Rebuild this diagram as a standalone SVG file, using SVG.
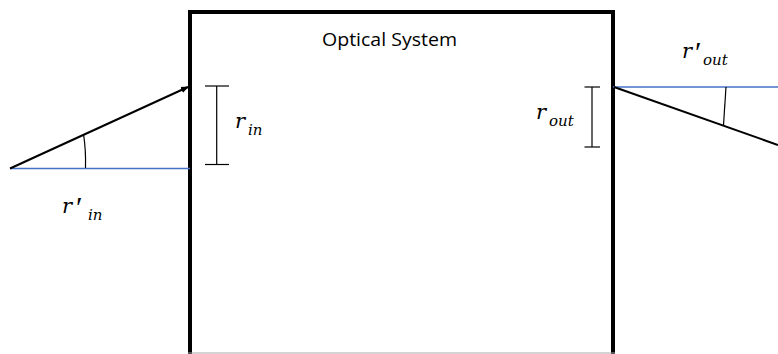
<svg xmlns="http://www.w3.org/2000/svg" width="778" height="354" viewBox="0 0 778 354">
<style>
.ray{stroke:#000;stroke-width:2;fill:none}
.axis{stroke:#4472C4;stroke-width:1.5;fill:none}
.thin{stroke:#000;stroke-width:1.2;fill:none}
.m{font-family:"DejaVu Serif","Liberation Serif",serif;font-style:italic;fill:#000}
.r{font-size:21px}
.s{font-size:15px}
.p{font-family:"Liberation Serif","DejaVu Serif",serif;font-style:normal;font-size:30px}
</style>
<defs>
<marker id="ah" markerWidth="8" markerHeight="8" refX="7" refY="4" orient="auto" markerUnits="userSpaceOnUse">
<path d="M0,0.8 L8,4 L0,7.2 z" fill="#000"/>
</marker>
</defs>
<rect width="778" height="354" fill="#fff"/>
<g id="system">
<rect x="190" y="12" width="423" height="350" fill="none" stroke="#000" stroke-width="4"/>
<line x1="188" y1="353" x2="615" y2="353" stroke="#aaa" stroke-width="1"/>
<text x="322" y="46" font-family="Open Sans, Liberation Sans, sans-serif" font-size="18" textLength="135" lengthAdjust="spacingAndGlyphs" fill="#000">Optical System</text>
</g>
<g id="connectors">
<line class="axis" x1="10" y1="168.5" x2="190" y2="168.5"/>
<line class="ray" x1="10" y1="168.5" x2="188" y2="87" marker-end="url(#ah)"/>
<path class="thin" d="M83.5,134 Q86,150 85.5,168"/>
<line class="axis" x1="613" y1="87" x2="778" y2="87"/>
<line class="ray" x1="614" y1="87" x2="778" y2="145"/>
<path class="thin" d="M726,87 L723.5,125"/>
</g>
<g id="r-in">
<line class="thin" x1="216.7" y1="86" x2="216.7" y2="164.5"/>
<line class="thin" x1="205" y1="86" x2="229" y2="86"/>
<line class="thin" x1="205" y1="164.5" x2="229" y2="164.5"/>
<text class="m" y="128"><tspan class="r" x="235">r</tspan><tspan class="s" x="248" dy="7">in</tspan></text>
</g>
<g id="r-prime-in">
<text class="m" y="213"><tspan class="r" x="62">r</tspan><tspan class="p" x="76" dy="4">′</tspan><tspan class="s" x="88" dy="3">in</tspan></text>
</g>
<g id="r-out">
<line class="thin" x1="592" y1="87" x2="592" y2="147"/>
<line class="thin" x1="584.5" y1="87" x2="600" y2="87"/>
<line class="thin" x1="584.5" y1="147" x2="600" y2="147"/>
<text class="m" y="119"><tspan class="r" x="536">r</tspan><tspan class="s" x="549" dy="7">out</tspan></text>
</g>
<g id="r-prime-out">
<text class="m" y="58"><tspan class="r" x="682">r</tspan><tspan class="p" x="695" dy="4">′</tspan><tspan class="s" x="703" dy="3">out</tspan></text>
</g>
</svg>
